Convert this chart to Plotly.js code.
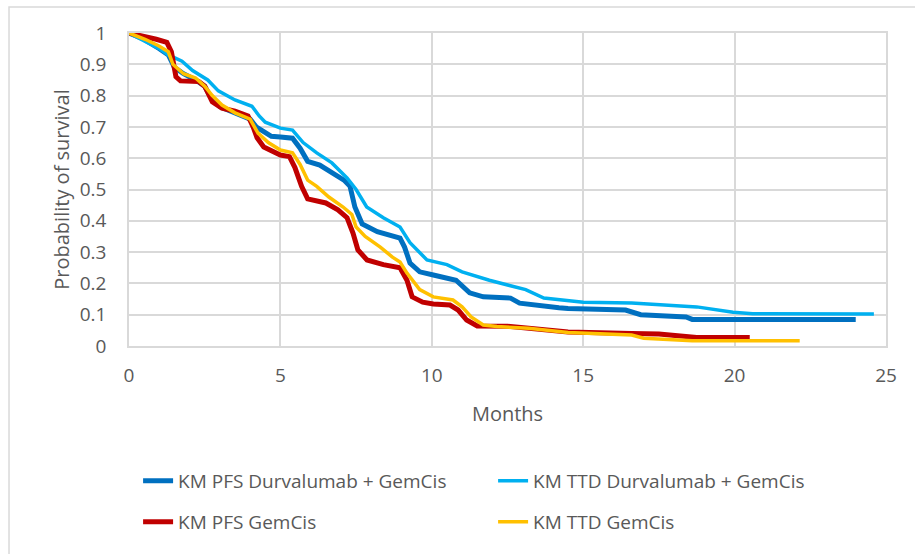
<!DOCTYPE html>
<html>
<head>
<meta charset="utf-8">
<script src="https://cdn.plot.ly/plotly-3.0.1.min.js"></script>
<style>
body { margin: 0; background: #ffffff; }
#kmplot { width: 915px; height: 554px; }
</style>
</head>
<body>
<div id="kmplot"></div>
<script>
// KM curves (months, probability)
var pfsDurvaMonths = [0, 0.5, 1.0, 1.3, 1.5, 1.8, 2.2, 2.5, 2.7, 3.0, 3.5, 4.0, 4.2, 4.45, 4.7, 5.0, 5.4, 5.65, 5.9, 6.3, 6.7, 7.1, 7.3, 7.46, 7.7, 8.2, 8.95, 9.1, 9.28, 9.6, 10.05, 10.8, 11.25, 11.7, 12.6, 12.9, 14.2, 14.5, 16.4, 16.9, 18.4, 18.6, 24.0];
var pfsDurvaProb = [1.0, 0.98, 0.95, 0.93, 0.89, 0.87, 0.85, 0.83, 0.795, 0.765, 0.745, 0.725, 0.70, 0.685, 0.67, 0.668, 0.664, 0.632, 0.59, 0.578, 0.556, 0.53, 0.51, 0.444, 0.39, 0.365, 0.345, 0.316, 0.265, 0.237, 0.227, 0.21, 0.17, 0.157, 0.153, 0.137, 0.122, 0.12, 0.115, 0.10, 0.093, 0.085, 0.085];

var ttdDurvaMonths = [0, 0.5, 1.0, 1.3, 1.75, 2.1, 2.6, 2.95, 3.5, 4.06, 4.3, 4.5, 5.0, 5.4, 5.75, 6.2, 6.7, 7.2, 7.5, 7.85, 8.4, 8.95, 9.28, 9.84, 10.5, 11.0, 11.9, 13.1, 13.7, 15.0, 16.6, 18.75, 19.95, 20.6, 24.6];
var ttdDurvaProb = [1.0, 0.975, 0.95, 0.93, 0.91, 0.88, 0.85, 0.815, 0.786, 0.766, 0.735, 0.715, 0.696, 0.69, 0.65, 0.617, 0.585, 0.537, 0.50, 0.444, 0.41, 0.38, 0.33, 0.275, 0.26, 0.237, 0.21, 0.18, 0.153, 0.14, 0.137, 0.125, 0.108, 0.103, 0.102];

var pfsGemMonths = [0, 0.5, 0.9, 1.25, 1.4, 1.55, 1.7, 2.3, 2.5, 2.75, 3.07, 3.5, 3.93, 4.1, 4.23, 4.45, 5.0, 5.3, 5.48, 5.7, 5.9, 6.5, 6.9, 7.2, 7.4, 7.56, 7.86, 8.4, 8.95, 9.18, 9.35, 9.7, 10.05, 10.6, 10.87, 11.15, 11.5, 12.5, 13.2, 14.5, 16.6, 17.5, 18.75, 20.5];
var pfsGemProb = [1.0, 0.99, 0.98, 0.97, 0.94, 0.86, 0.847, 0.845, 0.83, 0.78, 0.76, 0.75, 0.735, 0.70, 0.665, 0.636, 0.61, 0.605, 0.57, 0.51, 0.47, 0.457, 0.435, 0.41, 0.36, 0.307, 0.275, 0.26, 0.25, 0.21, 0.157, 0.14, 0.134, 0.131, 0.115, 0.083, 0.064, 0.063, 0.058, 0.045, 0.04, 0.038, 0.027, 0.027];

var ttdGemMonths = [0, 0.53, 0.96, 1.3, 1.45, 1.8, 2.2, 2.5, 2.75, 3.07, 3.5, 4.0, 4.26, 4.6, 5.0, 5.4, 5.65, 5.9, 6.2, 6.6, 7.07, 7.36, 7.5, 7.8, 8.3, 8.7, 8.95, 9.18, 9.6, 10.05, 10.7, 11.0, 11.3, 11.7, 12.15, 13.2, 14.5, 16.6, 17.0, 18.6, 22.15];
var ttdGemProb = [1.0, 0.98, 0.96, 0.94, 0.90, 0.87, 0.856, 0.83, 0.80, 0.77, 0.745, 0.725, 0.68, 0.65, 0.626, 0.617, 0.58, 0.53, 0.51, 0.476, 0.444, 0.42, 0.38, 0.35, 0.316, 0.284, 0.268, 0.233, 0.18, 0.157, 0.147, 0.125, 0.093, 0.067, 0.062, 0.057, 0.043, 0.035, 0.025, 0.017, 0.017];

var seriesNames = ['KM PFS Durvalumab + GemCis', 'KM TTD Durvalumab + GemCis', 'KM PFS GemCis', 'KM TTD GemCis'];
var yTicks = [0, 0.1, 0.2, 0.3, 0.4, 0.5, 0.6, 0.7, 0.8, 0.9, 1];
var yTickText = ['0', '0.1', '0.2', '0.3', '0.4', '0.5', '0.6', '0.7', '0.8', '0.9', '1'];

var textFont = {family: 'Open Sans', size: 19, color: '#595959'};

var kmData = [
	{
		type: 'scatter',
		mode: 'lines',
		name: seriesNames[0],
		x: pfsDurvaMonths,
		y: pfsDurvaProb,
		line: {color: '#0070C0', width: 5},
		legend: 'legend'
	},
	{
		type: 'scatter',
		mode: 'lines',
		name: seriesNames[1],
		x: ttdDurvaMonths,
		y: ttdDurvaProb,
		line: {color: '#00B0F0', width: 3.5},
		legend: 'legend'
	},
	{
		type: 'scatter',
		mode: 'lines',
		name: seriesNames[2],
		x: pfsGemMonths,
		y: pfsGemProb,
		line: {color: '#C00000', width: 5},
		legend: 'legend2'
	},
	{
		type: 'scatter',
		mode: 'lines',
		name: seriesNames[3],
		x: ttdGemMonths,
		y: ttdGemProb,
		line: {color: '#FFC000', width: 3.5},
		legend: 'legend2'
	}
];

var kmLayout = {
	width: 915,
	height: 554,
	paper_bgcolor: '#ffffff',
	plot_bgcolor: '#ffffff',
	margin: {l: 129, r: 29, t: 33, b: 208},
	showlegend: true,
	xaxis: {
		range: [0, 25],
		tickvals: [0, 5, 10, 15, 20, 25],
		showgrid: true,
		gridcolor: '#d9d9d9',
		gridwidth: 1.5,
		showline: true,
		mirror: true,
		linecolor: '#d9d9d9',
		linewidth: 1.5,
		zeroline: false,
		ticks: '',
		ticklabelstandoff: 11,
		tickfont: textFont,
		title: {text: 'Months', font: {family: 'Open Sans', size: 20, color: '#595959'}, standoff: 20}
	},
	yaxis: {
		range: [0, 1],
		tickvals: yTicks,
		ticktext: yTickText,
		showgrid: true,
		gridcolor: '#d9d9d9',
		gridwidth: 1.5,
		showline: true,
		mirror: true,
		linecolor: '#d9d9d9',
		linewidth: 1.5,
		zeroline: false,
		ticks: '',
		ticklabelstandoff: 17,
		tickfont: textFont,
		title: {text: 'Probability of survival', font: {family: 'Open Sans', size: 20, color: '#595959'}, standoff: 5}
	},
	legend: {
		orientation: 'h',
		x: 0.012,
		xanchor: 'left',
		y: -0.431,
		yanchor: 'middle',
		entrywidth: 310,
		font: textFont,
		bgcolor: 'rgba(0,0,0,0)'
	},
	legend2: {
		orientation: 'h',
		x: 0.012,
		xanchor: 'left',
		y: -0.562,
		yanchor: 'middle',
		entrywidth: 310,
		font: textFont,
		bgcolor: 'rgba(0,0,0,0)'
	},
	shapes: [
		{
			type: 'rect',
			xref: 'paper',
			yref: 'paper',
			x0: -0.1585,
			x1: 1.06,
			y0: -0.69,
			y1: 1.083,
			line: {color: '#d9d9d9', width: 1.5}
		}
	]
};

Plotly.newPlot('kmplot', kmData, kmLayout, {displayModeBar: false});
</script>
</body>
</html>
